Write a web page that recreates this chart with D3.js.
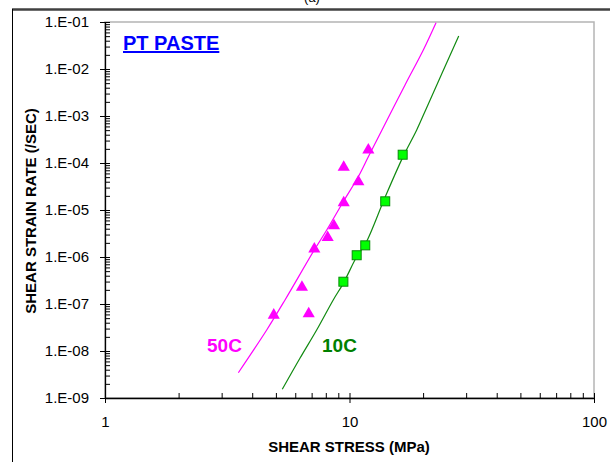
<!DOCTYPE html>
<html>
<head>
<meta charset="utf-8">
<script src="https://cdn.jsdelivr.net/npm/d3@7"></script>
<style>
  html, body { margin: 0; padding: 0; background: #fff; }
  svg { display: block; font-family: "Liberation Sans", Arial, sans-serif; }
</style>
</head>
<body>
<svg id="chart" width="610" height="462"></svg>
<script>
// Measured points, 50C (triangles): shear stress (MPa), shear strain rate (/sec)
const stress50 = [11.94, 9.47, 10.87, 9.47, 8.64, 8.14, 7.18, 6.39, 4.90, 6.81];
const rate50   = [1.9e-4, 8.1e-5, 4.0e-5, 1.43e-5, 4.6e-6, 2.6e-6, 1.48e-6, 2.27e-7, 5.8e-8, 6.2e-8];

// Measured points, 10C (squares)
const stress10 = [16.5, 14.0, 11.6, 10.7, 9.44];
const rate10   = [1.5e-4, 1.53e-5, 1.77e-6, 1.09e-6, 2.98e-7];

// Fitted model curves
const fitStress50 = [3.51, 4.585, 5.448, 7.11, 8.07, 9.43, 10.86, 11.94, 13.58, 16.87, 20.04, 22.59];
const fitRate50   = [3.45e-9, 2.8e-8, 1.22e-7, 1.3e-6, 3.75e-6, 1.5e-5, 5.11e-5, 1.36e-4, 5.04e-4, 4.57e-3, 2.54e-2, 0.0967];
const fitStress10 = [5.31, 6.27, 7.34, 8.58, 9.43, 10.70, 11.65, 14.01, 16.6, 18.83, 20.9, 27.97];
const fitRate10   = [1.53e-9, 7.0e-9, 2.8e-8, 1.22e-7, 2.75e-7, 1.01e-6, 1.96e-6, 1.92e-5, 1.4e-4, 5.04e-4, 1.7e-3, 5.04e-2];

// Axis ticks
const xTickValues = [1, 10, 100];
const xTickLabels = ["1", "10", "100"];
const yTickValues = [1e-9, 1e-8, 1e-7, 1e-6, 1e-5, 1e-4, 1e-3, 1e-2, 1e-1];
const yTickLabels = ["1.E-09", "1.E-08", "1.E-07", "1.E-06", "1.E-05", "1.E-04", "1.E-03", "1.E-02", "1.E-01"];

const MAGENTA = "#ff00ff";
const GREEN_LINE = "#118a11";
const GREEN_FILL = "#00ff00";
const GREEN_EDGE = "#0a8a0a";

const svg = d3.select("#chart");
const plotLeft = 105, plotRight = 594, plotTop = 22, plotBottom = 398;

const x = d3.scaleLog().domain([1, 100]).range([plotLeft, plotRight]);
const y = d3.scaleLog().domain([1e-9, 1e-1]).range([plotBottom, plotTop]);

// Outer frame: heavy top rule and thin left rule
svg.append("line").attr("x1", 12).attr("x2", 610).attr("y1", 9.5).attr("y2", 9.5)
  .attr("stroke", "#404040").attr("stroke-width", 2.5);
svg.append("line").attr("x1", 12.5).attr("x2", 12.5).attr("y1", 9).attr("y2", 462)
  .attr("stroke", "#000").attr("stroke-width", 1);
svg.append("text").attr("x", 312).attr("y", 1.5).attr("text-anchor", "middle")
  .attr("font-size", 13).attr("fill", "#000").text("(a)");

// Plot area border (top/right in grey)
svg.append("rect").attr("x", plotLeft).attr("y", plotTop)
  .attr("width", plotRight - plotLeft).attr("height", plotBottom - plotTop)
  .attr("fill", "none").attr("stroke", "#b4b4b4").attr("stroke-width", 1.5);

// Minor ticks
const minorX = [];
[1, 10].forEach(d => { for (let k = 2; k <= 9; k++) minorX.push(d * k); });
const minorY = [];
yTickValues.slice(0, -1).forEach(d => { for (let k = 2; k <= 9; k++) minorY.push(d * k); });

const gxMinor = svg.append("g").attr("transform", `translate(0,${plotBottom})`)
  .call(d3.axisBottom(x).tickValues(minorX).tickSize(-5).tickFormat(""));
gxMinor.select(".domain").remove();
gxMinor.selectAll("line").attr("stroke", "#000");

const gyMinor = svg.append("g").attr("transform", `translate(${plotLeft},0)`)
  .call(d3.axisLeft(y).tickValues(minorY).tickSize(-5).tickFormat(""));
gyMinor.select(".domain").remove();
gyMinor.selectAll("line").attr("stroke", "#000");

// Major axes
const gx = svg.append("g").attr("transform", `translate(0,${plotBottom})`)
  .call(d3.axisBottom(x).tickValues(xTickValues).tickSizeOuter(0)
    .tickFormat((d, i) => xTickLabels[i]));
gx.select(".domain").attr("stroke", "#000").attr("stroke-width", 1.3);
gx.selectAll(".tick line").attr("y1", -5).attr("y2", 5).attr("stroke", "#000");
gx.selectAll(".tick text").attr("y", 18).attr("dy", "0.71em")
  .attr("font-size", 15).attr("font-family", "Liberation Sans, Arial, sans-serif").attr("fill", "#000");

const gy = svg.append("g").attr("transform", `translate(${plotLeft},0)`)
  .call(d3.axisLeft(y).tickValues(yTickValues).tickSizeOuter(0)
    .tickFormat((d, i) => yTickLabels[i]));
gy.select(".domain").attr("stroke", "#000").attr("stroke-width", 1.3);
gy.selectAll(".tick line").attr("x1", -5).attr("x2", 5).attr("stroke", "#000");
gy.selectAll(".tick text").attr("x", -16)
  .attr("font-size", 15).attr("font-family", "Liberation Sans, Arial, sans-serif").attr("fill", "#000");

// Axis titles
svg.append("text").attr("x", 349).attr("y", 452).attr("text-anchor", "middle")
  .attr("font-size", 15).attr("font-weight", "bold").text("SHEAR STRESS (MPa)");
svg.append("text").attr("transform", "translate(36,211) rotate(-90)").attr("text-anchor", "middle")
  .attr("font-size", 15).attr("font-weight", "bold").text("SHEAR STRAIN RATE (/SEC)");

// Fitted curves
const line = d3.line().x(d => x(d[0])).y(d => y(d[1])).curve(d3.curveCatmullRom.alpha(0.5));
svg.append("path").datum(d3.zip(fitStress50, fitRate50))
  .attr("d", line).attr("fill", "none").attr("stroke", MAGENTA).attr("stroke-width", 1.2);
svg.append("path").datum(d3.zip(fitStress10, fitRate10))
  .attr("d", line).attr("fill", "none").attr("stroke", GREEN_LINE).attr("stroke-width", 1.2);

// Markers
svg.append("g").selectAll("path").data(d3.zip(stress50, rate50)).join("path")
  .attr("transform", d => `translate(${x(d[0])},${y(d[1])})`)
  .attr("d", d3.symbol(d3.symbolTriangle, 64))
  .attr("fill", MAGENTA);

svg.append("g").selectAll("rect").data(d3.zip(stress10, rate10)).join("rect")
  .attr("x", d => x(d[0]) - 4.5).attr("y", d => y(d[1]) - 4.5)
  .attr("width", 9).attr("height", 9)
  .attr("fill", GREEN_FILL).attr("stroke", GREEN_EDGE).attr("stroke-width", 1);

// Labels
svg.append("text").attr("x", 123).attr("y", 50).attr("font-size", 20).attr("font-weight", "bold")
  .attr("fill", "#0000ff").attr("text-decoration", "underline").text("PT PASTE");
svg.append("text").attr("x", 207).attr("y", 352).attr("font-size", 19).attr("font-weight", "bold")
  .attr("fill", MAGENTA).text("50C");
svg.append("text").attr("x", 322).attr("y", 352).attr("font-size", 19).attr("font-weight", "bold")
  .attr("fill", "#008000").text("10C");
</script>
</body>
</html>
